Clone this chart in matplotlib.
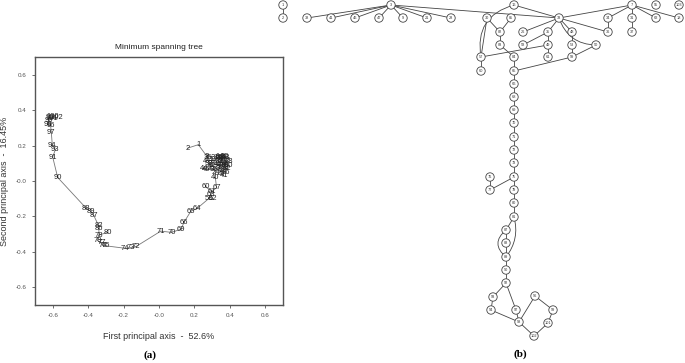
import numpy as np
import matplotlib
matplotlib.use("Agg")
import matplotlib.pyplot as plt
from matplotlib.patches import Circle, FancyArrowPatch

plt.rcParams["font.family"] = ["Liberation Sans", "DejaVu Sans"]

# ===== (a) principal-axis scores (label, PC1, PC2) =====
PT_LABELS = [100, 99, 102, 101, 95, 98, 96, 97, 94, 93, 91, 90,
             88, 89, 87, 82, 86, 80, 78, 79, 76, 75, 77, 74, 73, 72,
             71, 70, 69, 66, 65, 64, 62, 58, 63, 61, 67, 60, 40, 2, 1,
             3, 4, 5, 6, 7, 8, 9, 10, 11, 12, 13, 14, 15, 16, 17, 18, 19, 20,
             21, 22, 23, 24, 25, 26, 27, 28, 29, 30, 31, 32, 33, 34, 35, 36,
             37, 38, 39, 41, 42, 43, 44, 45]
PT_X = [-0.598, -0.615, -0.578, -0.606, -0.622, -0.628, -0.612, -0.608, -0.602, -0.585, -0.600, -0.572,
        -0.410, -0.385, -0.368, -0.342, -0.340, -0.290, -0.338, -0.348, -0.318, -0.300, -0.325, -0.190, -0.160, -0.130,
        0.010, 0.070, 0.125, 0.140, 0.180, 0.215, 0.305, 0.280, 0.292, 0.300, 0.325, 0.262, 0.318, 0.160, 0.222,
        0.270, 0.262, 0.330, 0.360, 0.350, 0.380, 0.372, 0.392, 0.330, 0.300, 0.282, 0.342, 0.362, 0.382, 0.310, 0.352, 0.372, 0.290,
        0.330, 0.362, 0.392, 0.320, 0.350, 0.380, 0.300, 0.340, 0.356, 0.372, 0.318, 0.386, 0.340, 0.362, 0.276, 0.310,
        0.346, 0.370, 0.280, 0.365, 0.332, 0.350, 0.252, 0.266]
PT_Y = [0.362, 0.360, 0.357, 0.350, 0.342, 0.318, 0.313, 0.275, 0.200, 0.178, 0.135, 0.020,
        -0.155, -0.170, -0.195, -0.250, -0.268, -0.290, -0.305, -0.335, -0.362, -0.366, -0.350, -0.380, -0.378, -0.370,
        -0.283, -0.290, -0.272, -0.235, -0.170, -0.155, -0.100, -0.100, -0.078, -0.058, -0.038, -0.033, 0.020, 0.185, 0.205,
        0.140, 0.110, 0.130, 0.120, 0.110, 0.130, 0.100, 0.090, 0.100, 0.090, 0.120, 0.140, 0.135, 0.115, 0.120, 0.090, 0.075, 0.070,
        0.075, 0.060, 0.110, 0.050, 0.045, 0.050, 0.100, 0.125, 0.125, 0.140, 0.135, 0.070, 0.110, 0.100, 0.135, 0.065,
        0.070, 0.085, 0.100, 0.030, 0.095, 0.130, 0.070, 0.065]

X_TICKS = [-0.6, -0.4, -0.2, 0.0, 0.2, 0.4, 0.6]
X_TICKLABELS = ["-0.6", "-0.4", "-0.2", "-0.0", "0.2", "0.4", "0.6"]
Y_TICKS = [0.6, 0.4, 0.2, 0.0, -0.2, -0.4, -0.6]
Y_TICKLABELS = ["0.6", "0.4", "0.2", "-0.0", "-0.2", "-0.4", "-0.6"]

# ===== (b) graph layout (node, x px, y px) =====
NODE_LABELS = ["1", "2", "3", "38", "41", "46", "47", "9", "21", "28",
               "16", "30", "85", "33", "82", "83", "57", "60", "84", "65",
               "26", "35", "48", "58", "49", "61", "53", "59", "50",
               "36", "34", "7", "31", "37", "62", "18", "95", "103",
               "66", "68", "69", "70", "71", "72", "73", "75", "79", "80", "81",
               "76", "77", "87", "88", "89", "90", "92",
               "93", "94", "97", "98", "96", "99", "101", "102"]
NODE_X = [283, 283, 391, 307, 331, 355, 379, 403, 427, 451,
          514, 487, 511, 559, 500, 500, 481, 481, 514, 514,
          523, 548, 572, 523, 548, 548, 572, 572, 596,
          608, 608, 632, 632, 632, 656, 679, 656, 679,
          514, 514, 514, 514, 514, 514, 514, 514, 514, 514, 514,
          490, 490, 506, 506, 506, 506, 506,
          493, 491, 516, 519, 535, 553, 548, 534]
NODE_Y = [5, 18, 5, 18, 18, 18, 18, 18, 18, 18,
          5, 18, 18, 18, 32, 45, 57, 71, 57, 71,
          32, 32, 32, 45, 45, 57, 45, 57, 45,
          32, 18, 5, 18, 32, 18, 18, 5, 5,
          84, 97, 110, 123, 137, 150, 163, 177, 190, 203, 217,
          177, 190, 230, 243, 257, 270, 283,
          297, 310, 310, 322, 296, 310, 323, 336]
EDGES = [("1", "2"), ("3", "38"), ("3", "41"), ("3", "46"), ("3", "47"), ("3", "9"),
         ("3", "21"), ("3", "28"), ("3", "33"), ("16", "33"), ("30", "57"), ("30", "82"),
         ("85", "82"), ("82", "83"), ("83", "84"), ("84", "65"), ("57", "60"), ("57", "49"),
         ("33", "26"), ("33", "35"), ("33", "48"), ("33", "36"), ("33", "7"), ("35", "58"),
         ("35", "49"), ("49", "61"), ("48", "53"), ("53", "59"), ("50", "59"), ("59", "65"),
         ("7", "34"), ("34", "36"), ("7", "31"), ("31", "37"), ("7", "62"), ("7", "18"),
         ("65", "66"), ("66", "68"), ("68", "69"), ("69", "70"), ("70", "71"), ("71", "72"),
         ("72", "73"), ("73", "75"), ("75", "79"), ("79", "80"), ("80", "81"),
         ("76", "77"), ("77", "75"), ("81", "87"), ("87", "88"), ("88", "89"), ("89", "90"),
         ("90", "92"), ("92", "93"), ("92", "97"), ("93", "94"), ("94", "98"), ("97", "98"),
         ("98", "96"), ("96", "99"), ("99", "101"), ("101", "102"), ("102", "98")]
CURVED_EDGES = [("16", "57", 0.45), ("33", "50", 0.35), ("81", "89", -0.25), ("87", "89", 0.6)]


def mst_edges(x, y):
    pts = np.column_stack([x, y])
    n = len(pts)
    d = np.hypot(pts[:, None, 0] - pts[None, :, 0], pts[:, None, 1] - pts[None, :, 1])
    in_tree = np.zeros(n, dtype=bool)
    in_tree[0] = True
    best = d[0].copy()
    parent = np.zeros(n, dtype=int)
    edges = []
    for _ in range(n - 1):
        j = int(np.argmin(np.where(in_tree, np.inf, best)))
        edges.append((parent[j], j))
        in_tree[j] = True
        upd = (d[j] < best) & ~in_tree
        parent[upd] = j
        best = np.where(upd, d[j], best)
    return edges


fig = plt.figure(figsize=(6.85, 3.63), dpi=100)
W, H = 685, 363

# ----- (a) -----
ax = fig.add_axes([35 / W, 1 - 305 / H, 248 / W, 248 / H])
px, py = np.array(PT_X), np.array(PT_Y)
for i, j in mst_edges(px, py):
    ax.plot([px[i], px[j]], [py[i], py[j]], color="#777777", lw=0.6, zorder=1)
for lab, x, y in zip(PT_LABELS, PT_X, PT_Y):
    ax.text(x, y, str(lab), fontsize=5.5, color="#222222", ha="center", va="center", zorder=2)
ax.set_xlim(-0.7, 0.7)
ax.set_ylim(-0.7, 0.7)
ax.set_xticks(X_TICKS)
ax.set_xticklabels(X_TICKLABELS)
ax.set_yticks(Y_TICKS)
ax.set_yticklabels(Y_TICKLABELS)
ax.tick_params(labelsize=4.5, labelcolor="#555555", length=2, width=0.6, color="#555555", pad=4)
for s in ax.spines.values():
    s.set_color("#555555")
    s.set_linewidth(1.0)
ax.set_title("Minimum spanning tree", fontsize=6, color="#222222", pad=6)
ax.set_xlabel("First principal axis  -  52.6%", fontsize=6.5, color="#333333", labelpad=10)
ax.set_ylabel("Second principal axis  -  16.45%", fontsize=6.5, color="#333333", labelpad=5)

# ----- (b) -----
gx = fig.add_axes([0, 0, 1, 1], zorder=-1)
gx.set_xlim(0, W)
gx.set_ylim(H, 0)
gx.axis("off")
pos = {lab: (x, y) for lab, x, y in zip(NODE_LABELS, NODE_X, NODE_Y)}
for a, b in EDGES:
    (x1, y1), (x2, y2) = pos[a], pos[b]
    gx.plot([x1, x2], [y1, y2], color="#444444", lw=0.6, zorder=1)
for a, b, rad in CURVED_EDGES:
    gx.add_patch(FancyArrowPatch(pos[a], pos[b], arrowstyle="-", connectionstyle=f"arc3,rad={rad}",
                                 color="#444444", lw=0.6, zorder=1, shrinkA=0, shrinkB=0))
for lab, x, y in zip(NODE_LABELS, NODE_X, NODE_Y):
    gx.add_patch(Circle((x, y), 4.2, facecolor="white", edgecolor="#444444", lw=0.6, zorder=2))
    gx.text(x, y, lab, fontsize=2.8, color="#333333", ha="center", va="center", zorder=3)

fig.text(150 / W, 1 - 355 / H, "(a)", fontsize=8, fontweight="bold", family="Liberation Serif",
         ha="center", va="center")
fig.text(520 / W, 1 - 354 / H, "(b)", fontsize=8, fontweight="bold", family="Liberation Serif",
         ha="center", va="center")

fig.savefig("out.png", dpi=100)
